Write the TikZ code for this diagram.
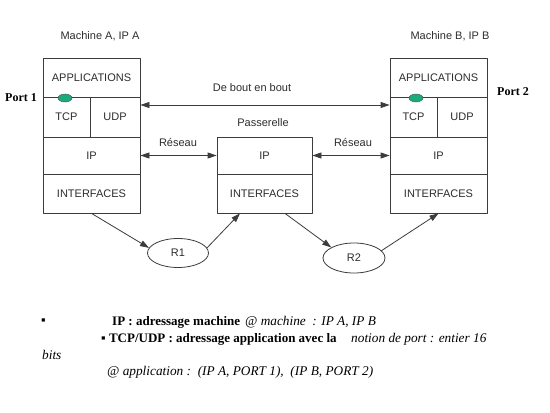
\documentclass[tikz,border=0pt]{standalone}
\usepackage{fontspec}
\setmainfont{Liberation Serif}
\newfontfamily\diagfont{Liberation Sans}
\usepackage{tikz}
\usetikzlibrary{arrows.meta,shapes.geometric}
\definecolor{LineGray}{RGB}{60,60,60}
\definecolor{TextGray}{RGB}{45,45,45}
\definecolor{PortGreen}{RGB}{25,170,125}
\newcommand{\LabelFont}{\diagfont\fontsize{11}{13}\selectfont}
\newcommand{\NoteFont}{\fontsize{13}{15}\selectfont}
\newcommand{\SlantFont}{\itshape\fontsize{13.3}{15}\selectfont}

\begin{document}
\begin{tikzpicture}[line cap=round,line join=round,>={Triangle[length=9pt,width=6pt]}
  ,x=1pt,y=-1pt
  ,layer/.style={draw=LineGray,line width=0.8pt,inner sep=0pt,text=TextGray,font=\LabelFont}
  ,net/.style={ellipse,draw=LineGray,line width=0.8pt,minimum width=61pt,minimum height=29pt,inner sep=0pt,text=TextGray,font=\LabelFont}
  ,portdot/.style={ellipse,draw=black!70,fill=PortGreen,minimum width=14pt,minimum height=8pt,inner sep=0pt}
  ,link/.style={draw=LineGray,line width=0.8pt}
  ,lbl/.style={inner sep=0pt,text=TextGray,font=\LabelFont}
  ,note/.style={inner sep=0pt,anchor=west,text=black,font=\NoteFont}]
  \fill[white] (0,0) rectangle (550,413);
  \useasboundingbox (0,0) rectangle (550,413);
  \foreach \m/\cx in {A/91.5,B/438.5}{
    \node[layer,minimum width=97pt,minimum height=39pt] (app\m) at (\cx,77.5) {APPLICATIONS};
    \node[layer,minimum width=47pt,minimum height=40pt] (tcp\m) at (\cx-25,117) {TCP};
    \node[layer,minimum width=50pt,minimum height=40pt] (udp\m) at (\cx+23.5,117) {UDP};
    \node[layer,minimum width=97pt,minimum height=37pt] (ip\m) at (\cx,155.5) {IP};
    \node[layer,minimum width=97pt,minimum height=39pt] (if\m) at (\cx,193.5) {INTERFACES};
  }
  \node[layer,minimum width=95pt,minimum height=37pt] (ipG) at (264.5,155.5) {IP};
  \node[layer,minimum width=95pt,minimum height=39pt] (ifG) at (264.5,193.5) {INTERFACES};
  \node[portdot] (port1) at (65,98) {};
  \node[portdot] (port2) at (416,98) {};
  \node[net] (R1) at (178,253) {R1};
  \node[net,minimum width=62pt,minimum height=30pt] (R2) at (354,258) {R2};
  \node[lbl] (machA) at (100,36) {Machine A, IP A};
  \node[lbl] (machB) at (450,36) {Machine B, IP B};
  \node[lbl] (endtoend) at (252,88) {De bout en bout};
  \node[lbl] (gwname) at (263,123) {Passerelle};
  \node[lbl] (netA) at (178,142) {Réseau};
  \node[lbl] (netB) at (353,142) {Réseau};
  \node[note,font=\bfseries\fontsize{12}{14}\selectfont] (port1lbl) at (5,98) {Port 1};
  \node[note,font=\bfseries\fontsize{12}{14}\selectfont] (port2lbl) at (497,92) {Port 2};
  \draw[link,<->] ([yshift=12pt]udpA.east) -- ([yshift=12pt]tcpB.west);
  \draw[link,<->] (ipA) -- (ipG);
  \draw[link,<->] (ipG) -- (ipB);
  \draw[link,->] (ifA.south) -- (R1.170);
  \draw[link,->] (R1.10) -- ([xshift=-24.5pt]ifG.south);
  \draw[link,->] ([xshift=20.5pt]ifG.south) -- (R2.155);
  \draw[link,->] (R2.15) -- (ifB.south);
  \node[note] (bullet1) at (41,322) {▪};
  \node[note,font=\bfseries\NoteFont] (ipnote) at (112,322) {IP : adressage machine};
  \node[note,font=\SlantFont] (ipaddr) at (245,322) {@ machine\ \ : IP A, IP B};
  \node[note,font=\bfseries\NoteFont] (tcpnote) at (101,339) {▪ TCP/UDP : adressage application avec la};
  \node[note,font=\SlantFont] (portnote) at (351,339) {notion de port : entier 16};
  \node[note,font=\SlantFont] (bits) at (42,355) {bits};
  \node[note,font=\SlantFont] (appaddr) at (107,372) {@ application :\ \ (IP A, PORT 1),\ \ (IP B, PORT 2)};
\end{tikzpicture}
\end{document}
